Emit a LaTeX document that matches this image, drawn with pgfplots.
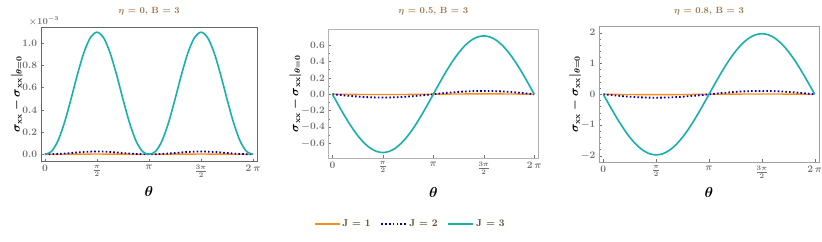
\documentclass[border=0pt]{standalone}
\usepackage{pgfplots}
\pgfplotsset{compat=1.18}
\usepackage{pgfplotstable}
\usepackage{amsmath,bm}
\definecolor{cJa}{rgb}{1,0.55,0.1}
\definecolor{cJb}{rgb}{0,0,0.75}
\definecolor{cJc}{rgb}{0.1,0.69,0.67}
\definecolor{ttl}{rgb}{0.62,0.45,0.28}
\definecolor{lgt}{rgb}{0.38,0.28,0.18}
\definecolor{tkc}{rgb}{0.45,0.45,0.45}

% k = theta in units of pi/16
\pgfplotstableread{
k a1 a2 a3 b1 b2 b3 c1 c2 c3
0 0 0 0 0 0 0 0 0 0
1 0.0001 0.0006 0.0256 -0.0008 -0.0078 -0.1385 -0.0020 -0.0215 -0.3843
2 0.0002 0.0027 0.1208 -0.0015 -0.0153 -0.2717 -0.0038 -0.0421 -0.7539
3 0.0005 0.0065 0.2847 -0.0022 -0.0222 -0.3945 -0.0056 -0.0611 -1.0945
4 0.0009 0.0113 0.4957 -0.0028 -0.0283 -0.5020 -0.0071 -0.0778 -1.3930
5 0.0013 0.0164 0.7195 -0.0033 -0.0333 -0.5903 -0.0083 -0.0915 -1.6380
6 0.0017 0.0208 0.9169 -0.0037 -0.0370 -0.6560 -0.0092 -0.1016 -1.8200
7 0.0019 0.0239 1.0520 -0.0039 -0.0392 -0.6964 -0.0098 -0.1079 -1.9322
8 0.0020 0.0250 1.1000 -0.0040 -0.0400 -0.7100 -0.0100 -0.1100 -1.9700
9 0.0019 0.0239 1.0520 -0.0039 -0.0392 -0.6964 -0.0098 -0.1079 -1.9322
10 0.0017 0.0208 0.9169 -0.0037 -0.0370 -0.6560 -0.0092 -0.1016 -1.8200
11 0.0013 0.0164 0.7195 -0.0033 -0.0333 -0.5903 -0.0083 -0.0915 -1.6380
12 0.0009 0.0113 0.4957 -0.0028 -0.0283 -0.5020 -0.0071 -0.0778 -1.3930
13 0.0005 0.0065 0.2847 -0.0022 -0.0222 -0.3945 -0.0056 -0.0611 -1.0945
14 0.0002 0.0027 0.1208 -0.0015 -0.0153 -0.2717 -0.0038 -0.0421 -0.7539
15 0.0001 0.0006 0.0256 -0.0008 -0.0078 -0.1385 -0.0020 -0.0215 -0.3843
16 0 0 0 0 0 0 0 0 0
17 0.0001 0.0006 0.0256 0.0008 0.0078 0.1385 0.0020 0.0215 0.3843
18 0.0002 0.0027 0.1208 0.0015 0.0153 0.2717 0.0038 0.0421 0.7539
19 0.0005 0.0065 0.2847 0.0022 0.0222 0.3945 0.0056 0.0611 1.0945
20 0.0009 0.0113 0.4957 0.0028 0.0283 0.5020 0.0071 0.0778 1.3930
21 0.0013 0.0164 0.7195 0.0033 0.0333 0.5903 0.0083 0.0915 1.6380
22 0.0017 0.0208 0.9169 0.0037 0.0370 0.6560 0.0092 0.1016 1.8200
23 0.0019 0.0239 1.0520 0.0039 0.0392 0.6964 0.0098 0.1079 1.9322
24 0.0020 0.0250 1.1000 0.0040 0.0400 0.7100 0.0100 0.1100 1.9700
25 0.0019 0.0239 1.0520 0.0039 0.0392 0.6964 0.0098 0.1079 1.9322
26 0.0017 0.0208 0.9169 0.0037 0.0370 0.6560 0.0092 0.1016 1.8200
27 0.0013 0.0164 0.7195 0.0033 0.0333 0.5903 0.0083 0.0915 1.6380
28 0.0009 0.0113 0.4957 0.0028 0.0283 0.5020 0.0071 0.0778 1.3930
29 0.0005 0.0065 0.2847 0.0022 0.0222 0.3945 0.0056 0.0611 1.0945
30 0.0002 0.0027 0.1208 0.0015 0.0153 0.2717 0.0038 0.0421 0.7539
31 0.0001 0.0006 0.0256 0.0008 0.0078 0.1385 0.0020 0.0215 0.3843
32 0 0 0 0 0 0 0 0 0
}\data

\pgfplotsset{
  every axis title shift=0pt,
  myax/.style={
    scale only axis,
    anchor=south west,
    tick pos=left,
    xmin=-0.65, xmax=32.65,
    xtick={0,8,16,24,32},
    xticklabels={$0$,$\frac{\pi}{2}$,$\pi$,$\frac{3\pi}{2}$,$2\,\pi$},
    major tick length=3pt,
    minor tick length=1.6pt,
    tick style={tkc, thin},
    ticklabel style={font=\bfseries\boldmath, text=tkc},
    title style={font=\small\bfseries\boldmath, text=ttl, anchor=center},
    xlabel={$\theta$},
    xlabel style={font=\Large\boldmath, anchor=center},
    ylabel={$\sigma_{\mathbf{xx}}-\sigma_{\mathbf{xx}}|_{\theta=0}$},
    ylabel style={font=\large\boldmath, anchor=center, inner sep=0pt},
    clip=false,
  },
  pJa/.style={cJa, line width=1.4pt, smooth},
  pJb/.style={cJb, line width=1.8pt, dash pattern=on 1.6pt off 2.2pt, smooth},
  pJc/.style={cJc, line width=1.6pt, smooth},
}

\begin{document}
\begin{tikzpicture}
\useasboundingbox (0,0) rectangle (822pt,241pt);

% Panel 1
\begin{axis}[myax,
  at={(40.7pt,79.3pt)}, width=216.6pt, height=134.4pt,
  axis line style={gray!80!black},
  ymin=-0.067, ymax=1.144,
  ytick={0,0.2,0.4,0.6,0.8,1.0},
  minor y tick num=1,
  yticklabel style={/pgf/number format/fixed, /pgf/number format/fixed zerofill, /pgf/number format/precision=1},
  title={$\eta$ = 0, B = 3},
  title style={at={(axis description cs:0.5,1.119)}},
  xlabel style={at={(axis description cs:0.5,-0.223)}},
  ylabel style={at={(axis description cs:-0.11,0.5)}},
]
\addplot[pJa] table[x=k,y=a1]{\data};
\addplot[pJb] table[x=k,y=a2]{\data};
\addplot[pJc] table[x=k,y=a3]{\data};
\node[anchor=south west, text=tkc, font=\small\bfseries\boldmath, inner sep=1pt] at (rel axis cs:0,1) [xshift=-13pt] {$\times10^{-3}$};
\end{axis}

% Panel 2
\begin{axis}[myax,
  at={(328.3pt,82.7pt)}, width=210pt, height=129.3pt,
  axis line style={gray!60},
  ymin=-0.78, ymax=0.794,
  ytick={-0.6,-0.4,-0.2,0,0.2,0.4,0.6},
  minor y tick num=1,
  yticklabel style={/pgf/number format/fixed, /pgf/number format/fixed zerofill, /pgf/number format/precision=1},
  title={$\eta$ = 0.5, B = 3},
  title style={at={(axis description cs:0.5,1.139)}},
  xlabel style={at={(axis description cs:0.5,-0.261)}},
  ylabel style={at={(axis description cs:-0.157,0.5)}},
  legend style={at={(axis description cs:0.39,-0.508)}, anchor=center, draw=none, fill=none,
    font=\bfseries, text=lgt, /tikz/every even column/.append style={column sep=8pt}},
  legend columns=3,
  legend image code/.code={\draw[#1] (0pt,0pt) -- (25pt,0pt);},
]
\addplot[pJa] table[x=k,y=b1]{\data};
\addlegendentry{J = 1}
\addplot[pJb] table[x=k,y=b2]{\data};
\addlegendentry{J = 2}
\addplot[pJc] table[x=k,y=b3]{\data};
\addlegendentry{J = 3}
\end{axis}

% Panel 3
\begin{axis}[myax,
  at={(599pt,78.7pt)}, width=220pt, height=136.3pt,
  axis line style={gray!75},
  ymin=-2.21, ymax=2.22,
  ytick={-2,-1,0,1,2},
  minor y tick num=4,
  title={$\eta$ = 0.8, B = 3},
  title style={at={(axis description cs:0.5,1.110)}},
  xlabel style={at={(axis description cs:0.5,-0.218)}},
  ylabel style={at={(axis description cs:-0.109,0.5)}},
]
\addplot[pJa] table[x=k,y=c1]{\data};
\addplot[pJb] table[x=k,y=c2]{\data};
\addplot[pJc] table[x=k,y=c3]{\data};
\end{axis}
\end{tikzpicture}
\end{document}
